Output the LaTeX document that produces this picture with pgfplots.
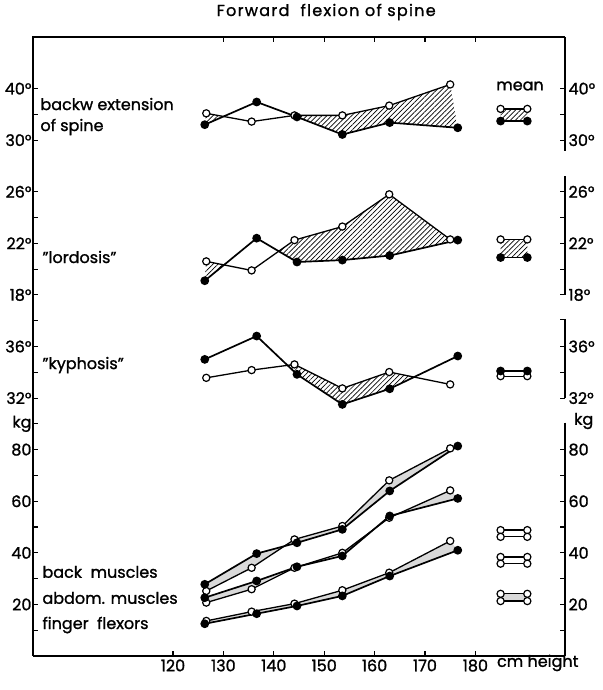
\documentclass[border=0pt]{standalone}
\usepackage{fontspec}
\setmainfont{Poppins}[FakeBold=1.2]
\usepackage{pgfplots}
\pgfplotsset{compat=1.18}
\usepackage{pgfplotstable}
\usepgfplotslibrary{fillbetween}
\usetikzlibrary{patterns.meta}

\pgfplotstableread{
xo o xf f
126.6 35.2 126.3 33.0
135.6 33.6 136.6 37.4
144.1 34.8 144.6 34.5
153.6 34.8 153.6 31.1
162.9 36.7 163.0 33.4
175.0 40.8 176.5 32.4
}\extension

\pgfplotstableread{
xo o xf f
126.6 20.6 126.3 19.1
135.6 19.9 136.6 22.4
144.1 22.25 144.6 20.55
153.6 23.3 153.6 20.7
162.9 25.8 163.0 21.05
175.0 22.3 176.5 22.25
}\lordosis

\pgfplotstableread{
xo o xf f
126.6 33.57 126.3 35.0
135.6 34.17 136.6 36.81
144.1 34.61 144.6 33.84
153.6 32.75 153.6 31.51
162.9 34.02 163.0 32.72
175.0 33.06 176.5 35.26
}\kyphosis

\pgfplotstableread{
xo bo ao fo xf bf af ff
126.6 25.2 20.7 13.6 126.3 27.8 22.6 12.5
135.6 34.2 25.9 17.2 136.6 39.7 29.1 16.4
144.1 45.2 34.2 20.3 144.6 43.9 34.6 19.4
153.6 50.4 40.0 25.5 153.6 49.1 38.8 23.3
162.9 68.1 53.6 32.3 163.0 64.0 54.3 31.0
175.0 80.5 64.2 44.6 176.5 81.4 61.1 41.0
}\muscles

\pgfplotstableread{
x exto extf loro lorf kypo kypf bmo bmf amo amf fmo fmf
185.0 36.06 33.7 22.3 20.9 33.7 34.1 48.8 46.2 38.4 35.8 24.1 21.3
190.3 36.06 33.7 22.3 20.9 33.7 34.1 48.8 46.2 38.4 35.8 24.1 21.3
}\means

\pgfplotsset{
  openl/.style={black, line width=1.3pt, mark=*, mark size=3.6pt,
    mark options={solid, fill=white, line width=1.2pt}},
  fulll/.style={black, line width=1.7pt, mark=*, mark size=3.5pt,
    mark options={solid, fill=black}},
  hatch/.style={pattern={Lines[angle=45,distance=3.5pt,line width=0.7pt]}, pattern color=black, draw=none},
  common/.style={at={(33pt,34pt)}, anchor=south west, scale only axis,
    width=532pt, height=619pt, xmin=92.22, xmax=197.78, ymin=0, ymax=24,
    clip=false, axis line style={draw=none}, tick align=inside,
    major tick length=5pt, tick style={black, line width=1.1pt},
    ticklabel style={font=\fontsize{16}{18}\selectfont}},
}
\newcommand{\lab}{\fontsize{16}{18}\selectfont}

\begin{document}
\begin{tikzpicture}
\path (0,0) rectangle (602pt,690pt);
\begin{axis}[common, set layers,
  xtick={120,130,140,150,160,170,180},
  xticklabels={120,130,140,150,160,170,180}, xtick pos=left,
  ytick={1,2,3,4,5,6,7,8,9,10,11,12,13,14,15,16,17,18,20,21,22},
  yticklabels={,20,,40,,60,,80,kg,32°,,36°,,18°,,22°,,26°,30°,,40°},
  ytick pos=left, yticklabel style={xshift=2pt}]
% frame
\draw[line width=1.5pt] (rel axis cs:0,0) -- (rel axis cs:0,1) -- (rel axis cs:1,1);
\draw[line width=1.5pt] (rel axis cs:0,0) -- (rel axis cs:1,0);
\draw[line width=1.5pt] (axis cs:197.78,24) -- (axis cs:197.78,19.57);
\draw[line width=1.5pt] (axis cs:197.78,18.6) -- (axis cs:197.78,14);
\draw[line width=1.5pt] (axis cs:196.8,13.05) -- (axis cs:197.78,13.05) -- (axis cs:197.78,10);
\draw[line width=1.5pt] (axis cs:197.78,9.05) -- (axis cs:197.78,0);

% backward extension
\addplot[openl, name path=tO] table[x=xo, y expr=20+(\thisrow{o}-30)/5] {\extension};
\addplot[fulll, name path=tF] table[x=xf, y expr=20+(\thisrow{f}-30)/5] {\extension};
\addplot[hatch] fill between[of=tO and tF, split, every odd segment/.style={fill=none}];
% lordosis
\addplot[openl, name path=lO] table[x=xo, y expr=14+(\thisrow{o}-18)/2] {\lordosis};
\addplot[fulll, name path=lF] table[x=xf, y expr=14+(\thisrow{f}-18)/2] {\lordosis};
\addplot[hatch] fill between[of=lO and lF, split, every odd segment/.style={fill=none}];
% kyphosis
\addplot[openl, name path=kO] table[x=xo, y expr=10+(\thisrow{o}-32)/2] {\kyphosis};
\addplot[fulll, name path=kF] table[x=xf, y expr=10+(\thisrow{f}-32)/2] {\kyphosis};
\addplot[hatch] fill between[of=kO and kF, split, every even segment/.style={fill=none}];
% muscles
\addplot[openl, name path=bO] table[x=xo, y expr=\thisrow{bo}/10] {\muscles};
\addplot[fulll, name path=bF] table[x=xf, y expr=\thisrow{bf}/10] {\muscles};
\addplot[gray!30] fill between[of=bO and bF];
\addplot[openl, name path=aO] table[x=xo, y expr=\thisrow{ao}/10] {\muscles};
\addplot[fulll, name path=aF] table[x=xf, y expr=\thisrow{af}/10] {\muscles};
\addplot[gray!30] fill between[of=aO and aF];
\addplot[openl, name path=fO] table[x=xo, y expr=\thisrow{fo}/10] {\muscles};
\addplot[fulll, name path=fF] table[x=xf, y expr=\thisrow{ff}/10] {\muscles};
\addplot[gray!30] fill between[of=fO and fF];

% means
\addplot[openl, name path=mtO] table[x=x, y expr=20+(\thisrow{exto}-30)/5] {\means};
\addplot[fulll, name path=mtF] table[x=x, y expr=20+(\thisrow{extf}-30)/5] {\means};
\addplot[hatch] fill between[of=mtO and mtF];
\addplot[openl, name path=mlO] table[x=x, y expr=14+(\thisrow{loro}-18)/2] {\means};
\addplot[fulll, name path=mlF] table[x=x, y expr=14+(\thisrow{lorf}-18)/2] {\means};
\addplot[hatch] fill between[of=mlO and mlF];
\addplot[openl] table[x=x, y expr=10+(\thisrow{kypo}-32)/2] {\means};
\addplot[fulll] table[x=x, y expr=10+(\thisrow{kypf}-32)/2] {\means};
\addplot[openl] table[x=x, y expr=\thisrow{bmo}/10] {\means};
\addplot[openl] table[x=x, y expr=\thisrow{bmf}/10] {\means};
\addplot[openl] table[x=x, y expr=\thisrow{amo}/10] {\means};
\addplot[openl] table[x=x, y expr=\thisrow{amf}/10] {\means};
\addplot[openl, name path=mfO] table[x=x, y expr=\thisrow{fmo}/10] {\means};
\addplot[openl, name path=mfF] table[x=x, y expr=\thisrow{fmf}/10] {\means};
\addplot[gray!30] fill between[of=mfO and mfF];

% texts
\node[font=\lab\addfontfeatures{LetterSpace=8}] at (axis cs:150.4,24.97) {Forward\ \ flexion of spine};
\node[font=\lab, anchor=west] at (axis cs:93.0,21.40) {backw extension};
\node[font=\lab, anchor=west] at (axis cs:93.0,20.51) {of spine};
\node[font=\lab] at (axis cs:188.85,22.10) {mean};
\node[font=\lab, anchor=west] at (axis cs:93.4,15.47) {"lordosis"};
\node[font=\lab, anchor=west] at (axis cs:93.4,11.28) {"kyphosis"};
\node[font=\lab, anchor=west] at (axis cs:93.4,3.26) {back\ \ muscles};
\node[font=\lab, anchor=west] at (axis cs:93.4,2.25) {abdom. muscles};
\node[font=\lab, anchor=west] at (axis cs:93.4,1.20) {finger\ \ flexors};
\node[font=\lab, anchor=west] at (axis cs:198.9,9.11) {kg};
\node[font=\lab, anchor=west] at (axis cs:183.6,-0.27) {cm height};
\end{axis}

\begin{axis}[common,
  xtick={130,140,150,160,170,180}, xticklabels={}, xtick pos=right,
  ytick={1,2,3,4,5,6,7,8,10,11,12,14,15,16,17,18,20,21,22},
  yticklabels={,20,,40,,60,,80,32°,,36°,18°,,22°,,26°,30°,,40°},
  ytick pos=right, yticklabel pos=right]
\addplot[draw=none, forget plot] coordinates {(120,1)};
\end{axis}
\end{tikzpicture}
\end{document}
